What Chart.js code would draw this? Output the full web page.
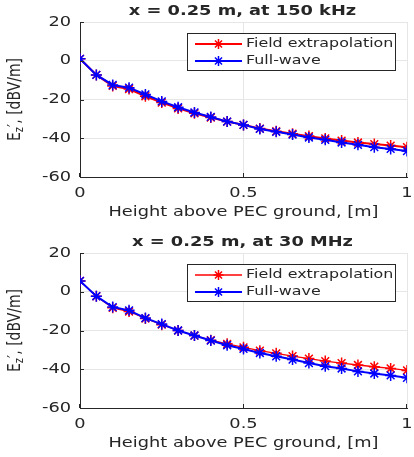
<!DOCTYPE html>
<html>
<head>
<meta charset="utf-8">
<title>Ez' vs height above PEC ground</title>
<script src="https://cdn.jsdelivr.net/npm/chart.js"></script>
<style>
    body { margin: 0; background: #fff; overflow: hidden; }
    .panel { position: absolute; left: 0; }
</style>
</head>
<body>
<canvas id="chart_150k" class="panel" style="top:0" width="414" height="231"></canvas>
<canvas id="chart_30m" class="panel" style="top:231px" width="414" height="231"></canvas>
<script>
    // heights [m]
    const heights = [0, 0.05, 0.1, 0.15, 0.2, 0.25, 0.3, 0.35, 0.4, 0.45, 0.5,
                     0.55, 0.6, 0.65, 0.7, 0.75, 0.8, 0.85, 0.9, 0.95, 1];

    // 150 kHz, Ez' [dBV/m]
    const extrap_150k = [1, -7.3, -13, -14.6, -18.3, -21.6, -24.6, -27.1, -29.3, -31.4, -33.1,
                         -35, -36.4, -37.7, -38.9, -40.1, -41.2, -42.2, -43, -43.8, -44.6];
    const fullwave_150k = [1, -7.3, -12.5, -13.9, -17.4, -21, -24, -26.7, -29, -31.4, -33.1,
                           -35.2, -36.7, -38.1, -39.6, -40.8, -42.2, -43.4, -44.6, -45.5, -46.6];

    // 30 MHz, Ez' [dBV/m]
    const extrap_30m = [5.6, -2.3, -8.3, -10.2, -13.8, -17, -20, -22.6, -25, -26.9, -28.7,
                        -30.4, -31.8, -33.2, -34.5, -35.8, -36.8, -37.8, -38.7, -39.6, -40.6];
    const fullwave_30m = [5.6, -2.3, -7.9, -9.6, -13.6, -16.7, -20, -22.6, -25.2, -27.6, -29.5,
                          -31.6, -33.3, -35, -36.8, -38.4, -39.6, -41.1, -42.2, -43.2, -44.4];

    const x_ticks = [0, 0.5, 1];
    const y_ticks = [20, 0, -20, -40, -60];

    const TEXT = '#262626';
    const FONT = '"DejaVu Sans", sans-serif';
    const STRETCH = 1.27;   // glyphs in the picture are drawn wider than normal

    function stretchedText(ctx, str, x, y, align, font) {
        ctx.save();
        ctx.font = font;
        ctx.fillStyle = TEXT;
        ctx.textBaseline = 'middle';
        ctx.textAlign = align;
        ctx.translate(x, y);
        ctx.scale(STRETCH, 1);
        ctx.fillText(str, 0, 0);
        ctx.restore();
    }

    function drawStar(ctx, x, y, r, color, lw) {
        ctx.save();
        ctx.strokeStyle = color;
        ctx.lineWidth = lw;
        ctx.beginPath();
        for (let k = 0; k < 4; k++) {
            const a = k * Math.PI / 4;
            ctx.moveTo(x - r * Math.cos(a), y - r * Math.sin(a));
            ctx.lineTo(x + r * Math.cos(a), y + r * Math.sin(a));
        }
        ctx.stroke();
        ctx.restore();
    }

    const matlabLook = {
        id: 'matlabLook',
        afterDraw(chart, args, opts) {
            const ctx = chart.ctx;
            const area = chart.chartArea;
            const xs = chart.scales.x, ys = chart.scales.y;

            // inward tick marks
            ctx.save();
            ctx.strokeStyle = TEXT;
            ctx.lineWidth = 1;
            ctx.beginPath();
            y_ticks.forEach(v => {
                const py = Math.round(ys.getPixelForValue(v)) + 0.5;
                ctx.moveTo(area.left, py); ctx.lineTo(area.left + 4, py);
            });
            x_ticks.forEach(v => {
                const px = Math.round(xs.getPixelForValue(v)) - 0.5;
                ctx.moveTo(px, area.bottom); ctx.lineTo(px, area.bottom - 4);
            });
            ctx.stroke();
            ctx.restore();

            // tick labels
            y_ticks.forEach(v => {
                stretchedText(ctx, String(v), area.left - 9, ys.getPixelForValue(v), 'right', '14px ' + FONT);
            });
            x_ticks.forEach(v => {
                stretchedText(ctx, String(v), xs.getPixelForValue(v), area.bottom + 16, 'center', '14px ' + FONT);
            });

            const cx = (area.left + area.right) / 2;
            stretchedText(ctx, opts.title, cx - 1, 11, 'center', 'bold 14px ' + FONT);
            stretchedText(ctx, 'Height above PEC ground, [m]', cx, area.bottom + 35, 'center', '14px ' + FONT);

            // y label: E_z', [dBV/m]
            const cy = (area.top + area.bottom) / 2;
            ctx.save();
            ctx.fillStyle = TEXT;
            ctx.textBaseline = 'middle';
            ctx.textAlign = 'left';
            ctx.translate(15, cy);
            ctx.scale(STRETCH, 1);
            ctx.rotate(-Math.PI / 2);
            ctx.font = '14px ' + FONT;
            const wE = ctx.measureText('E').width;
            const rest = '\u2032, [dBV/m]';
            const wR = ctx.measureText(rest).width;
            ctx.font = '10px ' + FONT;
            const wz = ctx.measureText('z').width;
            let x0 = -(wE + wz + wR) / 2;
            ctx.font = '14px ' + FONT;
            ctx.fillText('E', x0, 0);
            ctx.font = '10px ' + FONT;
            ctx.fillText('z', x0 + wE, 4);
            ctx.font = '14px ' + FONT;
            ctx.fillText(rest, x0 + wE + wz, 0);
            ctx.restore();

            // legend
            const lx = 187.5, ly = 33.5, lw = 208, lh = 37;
            ctx.save();
            ctx.fillStyle = '#fff';
            ctx.fillRect(lx, ly, lw, lh);
            ctx.strokeStyle = TEXT;
            ctx.lineWidth = 1;
            ctx.strokeRect(lx, ly, lw, lh);
            ctx.restore();
            chart.data.datasets.forEach((ds, i) => {
                const ry = 44 + i * 17;
                ctx.save();
                ctx.strokeStyle = ds.borderColor;
                ctx.lineWidth = ds.borderWidth;
                ctx.beginPath();
                ctx.moveTo(195, ry); ctx.lineTo(242, ry);
                ctx.stroke();
                ctx.restore();
                drawStar(ctx, 218.5, ry, 5, ds.borderColor, 1.5);
                stretchedText(ctx, ds.label, 246, ry, 'left', '12.5px ' + FONT);
            });
        }
    };

    function addChart(_element_id, _title, _extrap, _full, _red_width) {
        const ctx = document.getElementById(_element_id);
        const toPoints = arr => arr.map((v, i) => ({ x: heights[i], y: v }));
        return new Chart(ctx, {
            type: 'line',
            data: {
                datasets: [{
                    label: 'Field extrapolation',
                    data: toPoints(_extrap),
                    order: 1,
                    borderColor: '#ff0000',
                    borderWidth: _red_width,
                    pointStyle: 'star',
                    pointRadius: 5.5,
                    pointBorderWidth: 1.5,
                    pointBorderColor: '#ff0000',
                    tension: 0
                }, {
                    label: 'Full-wave',
                    data: toPoints(_full),
                    order: 0,
                    borderColor: '#0000ff',
                    borderWidth: 2,
                    pointStyle: 'star',
                    pointRadius: 5.5,
                    pointBorderWidth: 1.5,
                    pointBorderColor: '#0000ff',
                    tension: 0
                }]
            },
            options: {
                responsive: false,
                animation: false,
                events: [],
                layout: { padding: { top: 22, right: 3, left: 0, bottom: 0 } },
                plugins: {
                    legend: { display: false },
                    tooltip: { enabled: false },
                    matlabLook: { title: _title }
                },
                scales: {
                    x: {
                        type: 'linear', min: 0, max: 1,
                        afterBuildTicks: s => { s.ticks = x_ticks.map(v => ({ value: v })); },
                        afterFit: s => { s.height = 54; },
                        ticks: { display: false },
                        grid: { color: '#e6e6e6', drawTicks: false },
                        border: { color: TEXT, width: 1 }
                    },
                    y: {
                        min: -60, max: 20,
                        afterBuildTicks: s => { s.ticks = y_ticks.map(v => ({ value: v })); },
                        afterFit: s => { s.width = 80; },
                        ticks: { display: false },
                        grid: { color: '#e6e6e6', drawTicks: false },
                        border: { color: TEXT, width: 1 }
                    }
                }
            },
            plugins: [matlabLook]
        });
    }

    const chart_150k = addChart('chart_150k', 'x = 0.25 m, at 150 kHz', extrap_150k, fullwave_150k, 2);
    const chart_30m = addChart('chart_30m', 'x = 0.25 m, at 30 MHz', extrap_30m, fullwave_30m, 1.3);
</script>
</body>
</html>
